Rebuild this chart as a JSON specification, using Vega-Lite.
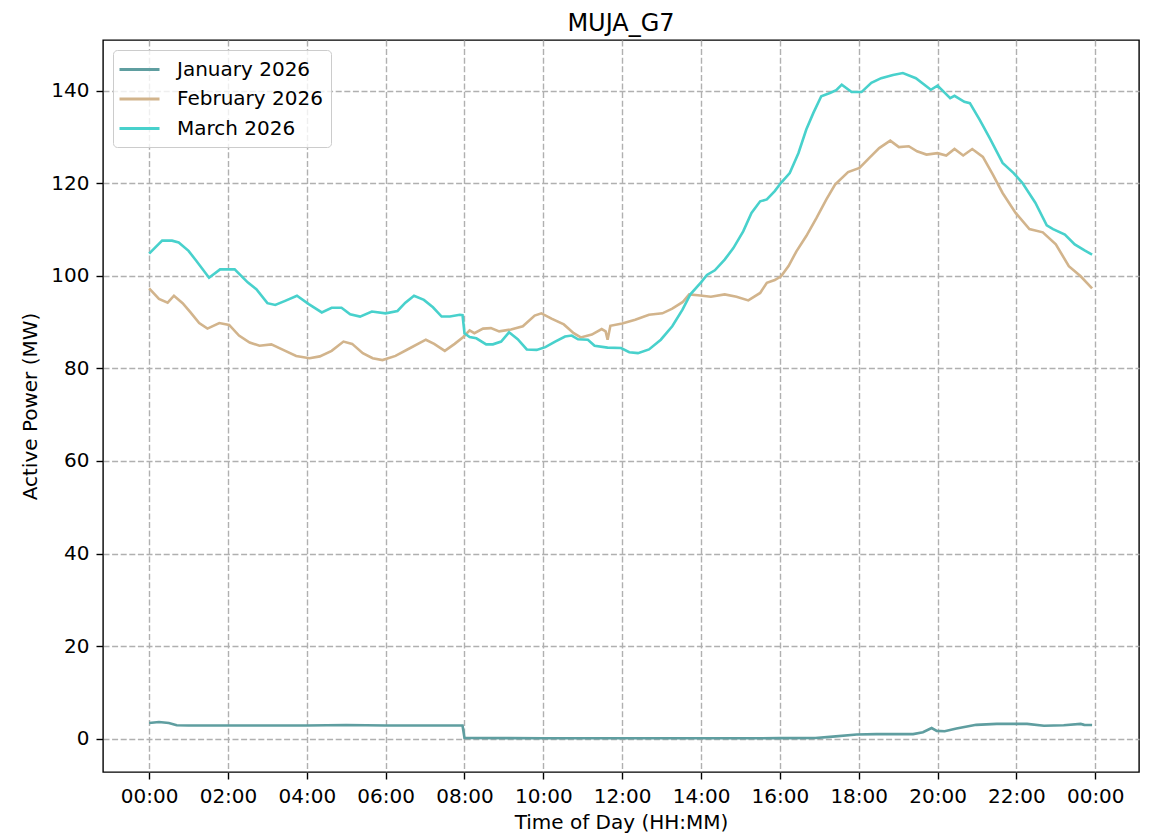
{
  "$schema": "https://vega.github.io/schema/vega-lite/v6.json",
  "width": 1036,
  "height": 732,
  "autosize": {"type": "none"},
  "padding": {"left": 103, "top": 40, "right": 16, "bottom": 64},
  "background": "white",
  "title": {"text": "MUJA_G7", "fontSize": 24, "font": "DejaVu Sans", "fontWeight": "normal", "color": "black", "anchor": "middle", "baseline": "alphabetic", "offset": 11, "dy": 26},
  "config": {
    "font": "DejaVu Sans",
    "view": {"stroke": "black", "strokeWidth": 1.4},
    "axis": {
      "domain": false,
      "labelFont": "DejaVu Sans",
      "labelFontSize": 20,
      "labelColor": "black",
      "titleFont": "DejaVu Sans",
      "titleFontSize": 20,
      "titleFontWeight": "normal",
      "titleColor": "black",
      "tickColor": "black",
      "tickSize": 7,
      "tickWidth": 1.4,
      "labelPadding": 7,
      "grid": true,
      "gridColor": "#b0b0b0",
      "gridWidth": 1.4,
      "gridDash": [6, 2.6]
    },
    "legend": {
      "orient": "top-left",
      "offset": 10,
      "padding": 8,
      "fillColor": "rgba(255,255,255,0.8)",
      "strokeColor": "#cccccc",
      "cornerRadius": 4,
      "labelFont": "DejaVu Sans",
      "labelFontSize": 20,
      "labelColor": "black",
      "symbolType": "M-2,0H2",
      "symbolSize": 400,
      "symbolStrokeWidth": 3,
      "symbolOffset": 7,
      "labelOffset": 26,
      "rowPadding": 7.5
    }
  },
  "data": {"values": [
    {"month": "January 2026", "hour": 0.00, "mw": 3.4},
    {"month": "January 2026", "hour": 0.25, "mw": 3.6},
    {"month": "January 2026", "hour": 0.50, "mw": 3.4},
    {"month": "January 2026", "hour": 0.70, "mw": 2.9},
    {"month": "January 2026", "hour": 1.00, "mw": 2.85},
    {"month": "January 2026", "hour": 2.00, "mw": 2.85},
    {"month": "January 2026", "hour": 3.00, "mw": 2.85},
    {"month": "January 2026", "hour": 4.00, "mw": 2.85},
    {"month": "January 2026", "hour": 5.00, "mw": 2.95},
    {"month": "January 2026", "hour": 6.00, "mw": 2.85},
    {"month": "January 2026", "hour": 7.00, "mw": 2.85},
    {"month": "January 2026", "hour": 7.95, "mw": 2.85},
    {"month": "January 2026", "hour": 8.00, "mw": 0.15},
    {"month": "January 2026", "hour": 10.00, "mw": 0.1},
    {"month": "January 2026", "hour": 12.00, "mw": 0.1},
    {"month": "January 2026", "hour": 14.00, "mw": 0.1},
    {"month": "January 2026", "hour": 16.00, "mw": 0.12},
    {"month": "January 2026", "hour": 16.90, "mw": 0.15},
    {"month": "January 2026", "hour": 17.27, "mw": 0.4},
    {"month": "January 2026", "hour": 17.95, "mw": 0.9},
    {"month": "January 2026", "hour": 18.45, "mw": 1.0},
    {"month": "January 2026", "hour": 19.38, "mw": 1.0},
    {"month": "January 2026", "hour": 19.63, "mw": 1.4},
    {"month": "January 2026", "hour": 19.85, "mw": 2.3},
    {"month": "January 2026", "hour": 19.98, "mw": 1.7},
    {"month": "January 2026", "hour": 20.18, "mw": 1.6},
    {"month": "January 2026", "hour": 20.48, "mw": 2.2},
    {"month": "January 2026", "hour": 20.98, "mw": 3.0},
    {"month": "January 2026", "hour": 21.50, "mw": 3.2},
    {"month": "January 2026", "hour": 22.27, "mw": 3.2},
    {"month": "January 2026", "hour": 22.70, "mw": 2.8},
    {"month": "January 2026", "hour": 23.20, "mw": 2.9},
    {"month": "January 2026", "hour": 23.63, "mw": 3.2},
    {"month": "January 2026", "hour": 23.72, "mw": 3.0},
    {"month": "January 2026", "hour": 23.92, "mw": 2.95},

    {"month": "February 2026", "hour": 0.00, "mw": 97.3},
    {"month": "February 2026", "hour": 0.25, "mw": 95.0},
    {"month": "February 2026", "hour": 0.47, "mw": 94.2},
    {"month": "February 2026", "hour": 0.63, "mw": 95.7},
    {"month": "February 2026", "hour": 0.85, "mw": 94.1},
    {"month": "February 2026", "hour": 1.05, "mw": 92.1},
    {"month": "February 2026", "hour": 1.27, "mw": 89.8},
    {"month": "February 2026", "hour": 1.48, "mw": 88.6},
    {"month": "February 2026", "hour": 1.78, "mw": 89.8},
    {"month": "February 2026", "hour": 2.03, "mw": 89.4},
    {"month": "February 2026", "hour": 2.28, "mw": 87.1},
    {"month": "February 2026", "hour": 2.55, "mw": 85.6},
    {"month": "February 2026", "hour": 2.80, "mw": 84.9},
    {"month": "February 2026", "hour": 3.10, "mw": 85.2},
    {"month": "February 2026", "hour": 3.40, "mw": 84.0},
    {"month": "February 2026", "hour": 3.73, "mw": 82.7},
    {"month": "February 2026", "hour": 4.07, "mw": 82.2},
    {"month": "February 2026", "hour": 4.33, "mw": 82.6},
    {"month": "February 2026", "hour": 4.63, "mw": 83.8},
    {"month": "February 2026", "hour": 4.93, "mw": 85.8},
    {"month": "February 2026", "hour": 5.15, "mw": 85.3},
    {"month": "February 2026", "hour": 5.42, "mw": 83.3},
    {"month": "February 2026", "hour": 5.67, "mw": 82.2},
    {"month": "February 2026", "hour": 5.92, "mw": 81.8},
    {"month": "February 2026", "hour": 6.25, "mw": 82.7},
    {"month": "February 2026", "hour": 6.60, "mw": 84.3},
    {"month": "February 2026", "hour": 7.02, "mw": 86.2},
    {"month": "February 2026", "hour": 7.23, "mw": 85.3},
    {"month": "February 2026", "hour": 7.50, "mw": 83.8},
    {"month": "February 2026", "hour": 7.75, "mw": 85.3},
    {"month": "February 2026", "hour": 7.97, "mw": 86.8},
    {"month": "February 2026", "hour": 8.13, "mw": 88.2},
    {"month": "February 2026", "hour": 8.25, "mw": 87.6},
    {"month": "February 2026", "hour": 8.47, "mw": 88.6},
    {"month": "February 2026", "hour": 8.67, "mw": 88.7},
    {"month": "February 2026", "hour": 8.88, "mw": 88.0},
    {"month": "February 2026", "hour": 9.18, "mw": 88.4},
    {"month": "February 2026", "hour": 9.48, "mw": 89.1},
    {"month": "February 2026", "hour": 9.78, "mw": 91.4},
    {"month": "February 2026", "hour": 9.95, "mw": 91.9},
    {"month": "February 2026", "hour": 10.22, "mw": 90.7},
    {"month": "February 2026", "hour": 10.52, "mw": 89.5},
    {"month": "February 2026", "hour": 10.77, "mw": 87.6},
    {"month": "February 2026", "hour": 10.95, "mw": 86.7},
    {"month": "February 2026", "hour": 11.23, "mw": 87.3},
    {"month": "February 2026", "hour": 11.48, "mw": 88.5},
    {"month": "February 2026", "hour": 11.58, "mw": 88.0},
    {"month": "February 2026", "hour": 11.63, "mw": 86.2},
    {"month": "February 2026", "hour": 11.70, "mw": 89.2},
    {"month": "February 2026", "hour": 12.00, "mw": 89.7},
    {"month": "February 2026", "hour": 12.33, "mw": 90.5},
    {"month": "February 2026", "hour": 12.68, "mw": 91.6},
    {"month": "February 2026", "hour": 13.02, "mw": 91.9},
    {"month": "February 2026", "hour": 13.27, "mw": 92.9},
    {"month": "February 2026", "hour": 13.53, "mw": 94.3},
    {"month": "February 2026", "hour": 13.70, "mw": 96.0},
    {"month": "February 2026", "hour": 13.92, "mw": 95.8},
    {"month": "February 2026", "hour": 14.25, "mw": 95.5},
    {"month": "February 2026", "hour": 14.60, "mw": 96.0},
    {"month": "February 2026", "hour": 14.90, "mw": 95.5},
    {"month": "February 2026", "hour": 15.20, "mw": 94.7},
    {"month": "February 2026", "hour": 15.50, "mw": 96.3},
    {"month": "February 2026", "hour": 15.67, "mw": 98.5},
    {"month": "February 2026", "hour": 15.87, "mw": 99.1},
    {"month": "February 2026", "hour": 16.03, "mw": 99.9},
    {"month": "February 2026", "hour": 16.22, "mw": 102.1},
    {"month": "February 2026", "hour": 16.42, "mw": 105.3},
    {"month": "February 2026", "hour": 16.67, "mw": 108.6},
    {"month": "February 2026", "hour": 16.93, "mw": 112.5},
    {"month": "February 2026", "hour": 17.18, "mw": 116.5},
    {"month": "February 2026", "hour": 17.40, "mw": 119.7},
    {"month": "February 2026", "hour": 17.73, "mw": 122.4},
    {"month": "February 2026", "hour": 18.02, "mw": 123.3},
    {"month": "February 2026", "hour": 18.27, "mw": 125.5},
    {"month": "February 2026", "hour": 18.52, "mw": 127.6},
    {"month": "February 2026", "hour": 18.80, "mw": 129.2},
    {"month": "February 2026", "hour": 19.02, "mw": 127.8},
    {"month": "February 2026", "hour": 19.27, "mw": 128.0},
    {"month": "February 2026", "hour": 19.48, "mw": 126.9},
    {"month": "February 2026", "hour": 19.72, "mw": 126.2},
    {"month": "February 2026", "hour": 20.00, "mw": 126.5},
    {"month": "February 2026", "hour": 20.22, "mw": 126.0},
    {"month": "February 2026", "hour": 20.43, "mw": 127.4},
    {"month": "February 2026", "hour": 20.65, "mw": 126.0},
    {"month": "February 2026", "hour": 20.88, "mw": 127.4},
    {"month": "February 2026", "hour": 21.15, "mw": 125.7},
    {"month": "February 2026", "hour": 21.40, "mw": 121.9},
    {"month": "February 2026", "hour": 21.65, "mw": 117.9},
    {"month": "February 2026", "hour": 21.98, "mw": 113.6},
    {"month": "February 2026", "hour": 22.33, "mw": 110.1},
    {"month": "February 2026", "hour": 22.67, "mw": 109.4},
    {"month": "February 2026", "hour": 23.00, "mw": 106.8},
    {"month": "February 2026", "hour": 23.33, "mw": 102.1},
    {"month": "February 2026", "hour": 23.63, "mw": 99.9},
    {"month": "February 2026", "hour": 23.92, "mw": 97.3},

    {"month": "March 2026", "hour": 0.00, "mw": 104.8},
    {"month": "March 2026", "hour": 0.33, "mw": 107.6},
    {"month": "March 2026", "hour": 0.58, "mw": 107.6},
    {"month": "March 2026", "hour": 0.75, "mw": 107.2},
    {"month": "March 2026", "hour": 1.00, "mw": 105.4},
    {"month": "March 2026", "hour": 1.20, "mw": 103.2},
    {"month": "March 2026", "hour": 1.52, "mw": 99.6},
    {"month": "March 2026", "hour": 1.80, "mw": 101.4},
    {"month": "March 2026", "hour": 2.17, "mw": 101.4},
    {"month": "March 2026", "hour": 2.50, "mw": 98.6},
    {"month": "March 2026", "hour": 2.72, "mw": 97.1},
    {"month": "March 2026", "hour": 3.00, "mw": 94.1},
    {"month": "March 2026", "hour": 3.20, "mw": 93.7},
    {"month": "March 2026", "hour": 3.45, "mw": 94.6},
    {"month": "March 2026", "hour": 3.75, "mw": 95.7},
    {"month": "March 2026", "hour": 4.05, "mw": 93.9},
    {"month": "March 2026", "hour": 4.38, "mw": 92.1},
    {"month": "March 2026", "hour": 4.63, "mw": 93.1},
    {"month": "March 2026", "hour": 4.88, "mw": 93.1},
    {"month": "March 2026", "hour": 5.10, "mw": 91.7},
    {"month": "March 2026", "hour": 5.35, "mw": 91.2},
    {"month": "March 2026", "hour": 5.65, "mw": 92.3},
    {"month": "March 2026", "hour": 6.00, "mw": 91.9},
    {"month": "March 2026", "hour": 6.30, "mw": 92.4},
    {"month": "March 2026", "hour": 6.50, "mw": 94.2},
    {"month": "March 2026", "hour": 6.72, "mw": 95.7},
    {"month": "March 2026", "hour": 6.97, "mw": 94.8},
    {"month": "March 2026", "hour": 7.20, "mw": 93.2},
    {"month": "March 2026", "hour": 7.42, "mw": 91.2},
    {"month": "March 2026", "hour": 7.63, "mw": 91.2},
    {"month": "March 2026", "hour": 7.88, "mw": 91.6},
    {"month": "March 2026", "hour": 7.95, "mw": 91.5},
    {"month": "March 2026", "hour": 8.00, "mw": 87.6},
    {"month": "March 2026", "hour": 8.13, "mw": 86.8},
    {"month": "March 2026", "hour": 8.30, "mw": 86.5},
    {"month": "March 2026", "hour": 8.55, "mw": 85.2},
    {"month": "March 2026", "hour": 8.72, "mw": 85.2},
    {"month": "March 2026", "hour": 8.93, "mw": 85.8},
    {"month": "March 2026", "hour": 9.13, "mw": 87.8},
    {"month": "March 2026", "hour": 9.35, "mw": 86.3},
    {"month": "March 2026", "hour": 9.58, "mw": 84.1},
    {"month": "March 2026", "hour": 9.83, "mw": 84.0},
    {"month": "March 2026", "hour": 10.05, "mw": 84.6},
    {"month": "March 2026", "hour": 10.30, "mw": 85.8},
    {"month": "March 2026", "hour": 10.55, "mw": 86.9},
    {"month": "March 2026", "hour": 10.72, "mw": 87.1},
    {"month": "March 2026", "hour": 10.88, "mw": 86.3},
    {"month": "March 2026", "hour": 11.13, "mw": 86.2},
    {"month": "March 2026", "hour": 11.30, "mw": 84.9},
    {"month": "March 2026", "hour": 11.63, "mw": 84.5},
    {"month": "March 2026", "hour": 11.97, "mw": 84.4},
    {"month": "March 2026", "hour": 12.18, "mw": 83.5},
    {"month": "March 2026", "hour": 12.40, "mw": 83.3},
    {"month": "March 2026", "hour": 12.68, "mw": 84.1},
    {"month": "March 2026", "hour": 12.98, "mw": 86.2},
    {"month": "March 2026", "hour": 13.27, "mw": 89.1},
    {"month": "March 2026", "hour": 13.53, "mw": 92.7},
    {"month": "March 2026", "hour": 13.73, "mw": 96.0},
    {"month": "March 2026", "hour": 14.00, "mw": 98.6},
    {"month": "March 2026", "hour": 14.15, "mw": 100.2},
    {"month": "March 2026", "hour": 14.35, "mw": 101.2},
    {"month": "March 2026", "hour": 14.60, "mw": 103.5},
    {"month": "March 2026", "hour": 14.82, "mw": 106.0},
    {"month": "March 2026", "hour": 15.07, "mw": 109.6},
    {"month": "March 2026", "hour": 15.28, "mw": 113.6},
    {"month": "March 2026", "hour": 15.50, "mw": 116.1},
    {"month": "March 2026", "hour": 15.67, "mw": 116.5},
    {"month": "March 2026", "hour": 15.87, "mw": 118.3},
    {"month": "March 2026", "hour": 16.03, "mw": 120.1},
    {"month": "March 2026", "hour": 16.25, "mw": 122.2},
    {"month": "March 2026", "hour": 16.47, "mw": 126.5},
    {"month": "March 2026", "hour": 16.67, "mw": 131.6},
    {"month": "March 2026", "hour": 16.85, "mw": 135.2},
    {"month": "March 2026", "hour": 17.05, "mw": 138.8},
    {"month": "March 2026", "hour": 17.27, "mw": 139.5},
    {"month": "March 2026", "hour": 17.43, "mw": 140.1},
    {"month": "March 2026", "hour": 17.57, "mw": 141.3},
    {"month": "March 2026", "hour": 17.82, "mw": 139.7},
    {"month": "March 2026", "hour": 18.07, "mw": 139.7},
    {"month": "March 2026", "hour": 18.32, "mw": 141.7},
    {"month": "March 2026", "hour": 18.57, "mw": 142.7},
    {"month": "March 2026", "hour": 18.87, "mw": 143.4},
    {"month": "March 2026", "hour": 19.12, "mw": 143.8},
    {"month": "March 2026", "hour": 19.45, "mw": 142.7},
    {"month": "March 2026", "hour": 19.83, "mw": 140.2},
    {"month": "March 2026", "hour": 20.00, "mw": 141.1},
    {"month": "March 2026", "hour": 20.32, "mw": 138.4},
    {"month": "March 2026", "hour": 20.43, "mw": 138.9},
    {"month": "March 2026", "hour": 20.68, "mw": 137.6},
    {"month": "March 2026", "hour": 20.82, "mw": 137.3},
    {"month": "March 2026", "hour": 21.07, "mw": 133.7},
    {"month": "March 2026", "hour": 21.32, "mw": 129.8},
    {"month": "March 2026", "hour": 21.65, "mw": 124.4},
    {"month": "March 2026", "hour": 21.93, "mw": 122.2},
    {"month": "March 2026", "hour": 22.15, "mw": 120.1},
    {"month": "March 2026", "hour": 22.48, "mw": 115.8},
    {"month": "March 2026", "hour": 22.77, "mw": 110.9},
    {"month": "March 2026", "hour": 22.93, "mw": 110.1},
    {"month": "March 2026", "hour": 23.23, "mw": 108.9},
    {"month": "March 2026", "hour": 23.48, "mw": 106.8},
    {"month": "March 2026", "hour": 23.73, "mw": 105.5},
    {"month": "March 2026", "hour": 23.92, "mw": 104.6}
  ]},
  "mark": {"type": "line", "strokeWidth": 2.6, "interpolate": "linear"},
  "encoding": {
    "x": {
      "field": "hour", "type": "quantitative",
      "scale": {"domain": [-1.17, 25.11], "nice": false, "zero": false},
      "axis": {
        "title": "Time of Day (HH:MM)",
        "values": [0, 2, 4, 6, 8, 10, 12, 14, 16, 18, 20, 22, 24],
        "labelExpr": "(datum.value % 24 < 10 ? '0' : '') + (datum.value % 24) + ':00'",
        "titlePadding": 6,
        "labelFlush": false,
        "labelOverlap": false
      }
    },
    "y": {
      "field": "mw", "type": "quantitative",
      "scale": {"domain": [-7.19, 150.95], "nice": false, "zero": false},
      "axis": {
        "title": "Active Power (MW)",
        "values": [0, 20, 40, 60, 80, 100, 120, 140],
        "titlePadding": 10,
        "labelFlush": false,
        "labelOverlap": false
      }
    },
    "color": {
      "field": "month", "type": "nominal",
      "scale": {
        "domain": ["January 2026", "February 2026", "March 2026"],
        "range": ["#5F9EA0", "#D2B48C", "#48D1CC"]
      },
      "legend": {"title": null}
    }
  }
}
